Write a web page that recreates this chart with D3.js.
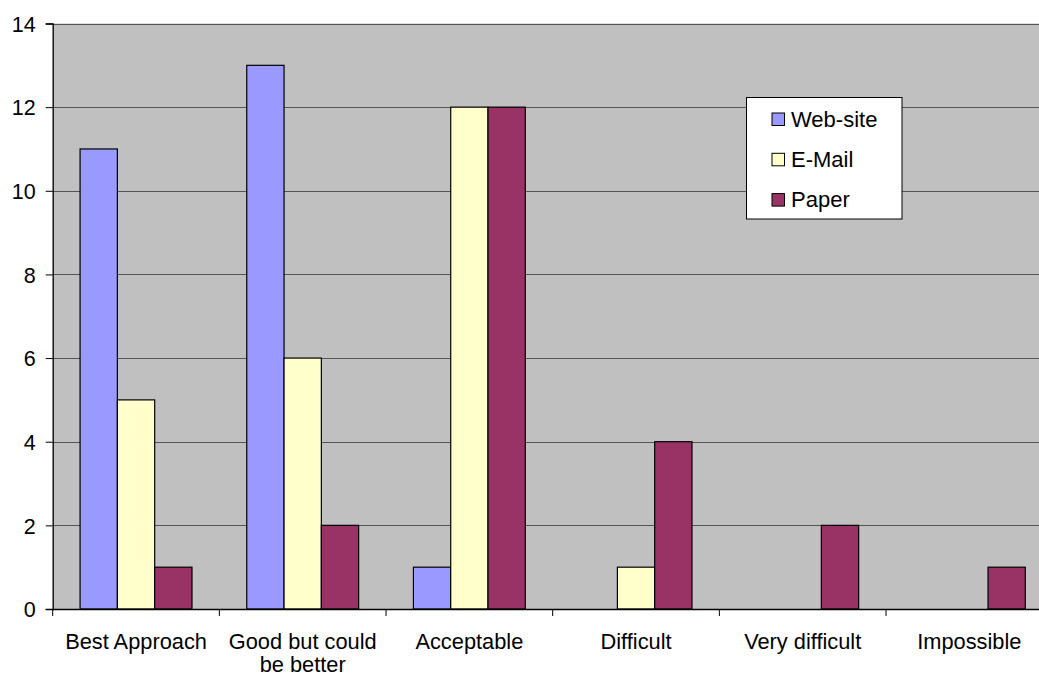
<!DOCTYPE html>
<html>
<head>
<meta charset="utf-8">
<script src="https://cdn.jsdelivr.net/npm/d3@7"></script>
<style>
  html, body { margin: 0; padding: 0; background: #fff; }
  svg { display: block; }
  text { font-family: Arial, "Liberation Sans", sans-serif; fill: #000; }
</style>
</head>
<body>
<svg id="chart" width="1039" height="677"></svg>
<script>
// Survey answers: how convenient each submission channel is
const categories = ["Best Approach", "Good but could be better", "Acceptable", "Difficult", "Very difficult", "Impossible"];
const categoryLines = [["Best Approach"], ["Good but could", "be better"], ["Acceptable"], ["Difficult"], ["Very difficult"], ["Impossible"]];
const seriesNames = ["Web-site", "E-Mail", "Paper"];
const webSite = [11, 13, 1, 0, 0, 0];
const eMail = [5, 6, 12, 1, 0, 0];
const paper = [1, 2, 12, 4, 2, 1];
const seriesColors = ["#9999FF", "#FFFFCC", "#993366"];
const yTicks = [0, 2, 4, 6, 8, 10, 12, 14];

const seriesValues = [webSite, eMail, paper];

const svg = d3.select("#chart");
const plotLeft = 52.7, plotRight = 1052.7, plotTop = 23.5, plotBottom = 609;

const x = d3.scaleBand().domain(categories).range([plotLeft, plotRight]).padding(0);
const xInner = d3.scaleBand().domain(seriesNames).range([0, x.bandwidth()])
  .paddingInner(0).paddingOuter(0.734);
const y = d3.scaleLinear().domain([0, 14]).range([plotBottom, plotTop]);

// plot background
svg.append("rect")
  .attr("x", plotLeft).attr("y", plotTop)
  .attr("width", plotRight - plotLeft).attr("height", plotBottom - plotTop)
  .attr("fill", "#C0C0C0");

// horizontal gridlines
svg.append("g")
  .selectAll("line")
  .data(yTicks.filter(d => d > 0))
  .join("line")
  .attr("x1", plotLeft).attr("x2", plotRight)
  .attr("y1", d => Math.round(y(d)) + 0.5).attr("y2", d => Math.round(y(d)) + 0.5)
  .attr("stroke", "#555").attr("stroke-width", 1);

// bars
const rows = [];
categories.forEach((c, i) => {
  seriesNames.forEach((s, j) => rows.push({ c, s, v: seriesValues[j][i], color: seriesColors[j] }));
});
svg.append("g")
  .selectAll("rect")
  .data(rows.filter(d => d.v > 0))
  .join("rect")
  .attr("x", d => x(d.c) + xInner(d.s))
  .attr("y", d => y(d.v))
  .attr("width", xInner.bandwidth())
  .attr("height", d => y(0) - y(d.v))
  .attr("fill", d => d.color)
  .attr("stroke", "#000").attr("stroke-width", 1.2);

// y axis
const yAxis = d3.axisLeft(y).tickValues(yTicks).tickSize(7).tickPadding(10).tickFormat(d3.format("d"));
const gy = svg.append("g").attr("transform", `translate(${plotLeft},0)`).call(yAxis);
gy.select(".domain").attr("stroke", "#000").attr("stroke-width", 1.3);
gy.selectAll(".tick line").attr("stroke", "#000");
gy.selectAll(".tick text").attr("font-size", 21.5).attr("font-family", "Arial, 'Liberation Sans', sans-serif").attr("dy", "0.36em");

// x axis: ticks at category boundaries
const boundaries = categories.map(c => x(c)).concat([x(categories[categories.length - 1]) + x.bandwidth()]);
svg.append("line")
  .attr("x1", plotLeft).attr("x2", plotRight)
  .attr("y1", plotBottom + 0.5).attr("y2", plotBottom + 0.5)
  .attr("stroke", "#000").attr("stroke-width", 1.3);
svg.append("g")
  .selectAll("line")
  .data(boundaries)
  .join("line")
  .attr("x1", d => d).attr("x2", d => d)
  .attr("y1", plotBottom).attr("y2", plotBottom + 7)
  .attr("stroke", "#000");

// category labels
const lab = svg.append("g")
  .selectAll("text")
  .data(categories)
  .join("text")
  .attr("x", d => x(d) + x.bandwidth() / 2)
  .attr("y", 649)
  .attr("text-anchor", "middle")
  .attr("font-size", 21.8);
lab.each(function(d, i) {
  d3.select(this).selectAll("tspan")
    .data(categoryLines[i])
    .join("tspan")
    .attr("x", x(d) + x.bandwidth() / 2)
    .attr("dy", (t, k) => k === 0 ? 0 : 23)
    .text(t => t);
});

// legend
const lg = svg.append("g");
lg.append("rect")
  .attr("x", 746.5).attr("y", 97.5).attr("width", 155.5).attr("height", 121.5)
  .attr("fill", "#fff").attr("stroke", "#000").attr("stroke-width", 1);
seriesNames.forEach((s, j) => {
  const yy = 113 + j * 40.3;
  lg.append("rect")
    .attr("x", 772).attr("y", yy).attr("width", 12.5).attr("height", 12.5)
    .attr("fill", seriesColors[j]).attr("stroke", "#000").attr("stroke-width", 1);
  lg.append("text")
    .attr("x", 791).attr("y", yy + 13.5)
    .attr("font-size", 22)
    .text(s);
});
</script>
</body>
</html>
